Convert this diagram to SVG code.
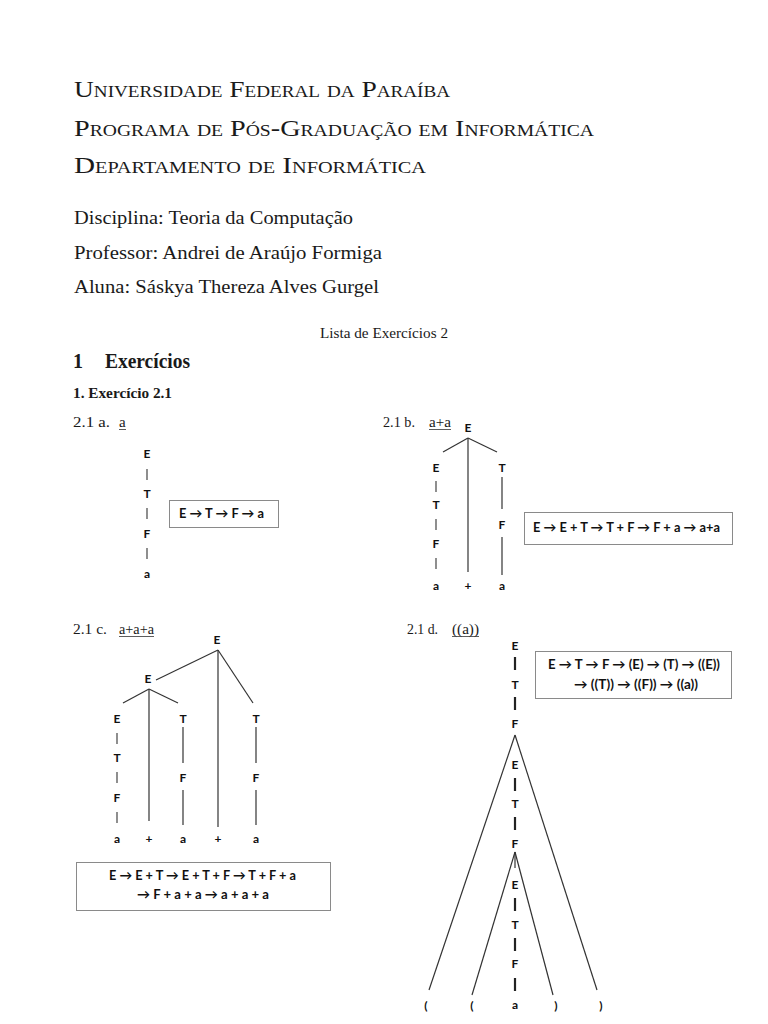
<svg xmlns="http://www.w3.org/2000/svg" width="768" height="1024" viewBox="0 0 768 1024">
<style>
.hd{font-family:"Liberation Serif",serif;font-variant:small-caps;font-size:23px;fill:#1a1a1a}
.sr{font-family:"Liberation Serif",serif;fill:#1a1a1a}
.t{font-family:Lato,"DejaVu Sans",sans-serif;font-weight:700;font-size:12px;fill:#111;text-anchor:middle;dominant-baseline:central}
.bx{fill:#fff;stroke:#8a8a8a;stroke-width:1}
.bt{font-family:Lato,"DejaVu Sans",sans-serif;font-weight:700;font-size:13px;fill:#111;text-anchor:middle}
.ln{stroke:#333;stroke-width:1.2;fill:none}
.br{stroke:#444;stroke-width:1.2}
.bb{stroke:#222;stroke-width:2.2}
.ul{stroke:#333;stroke-width:0.8}
</style>
<rect width="768" height="1024" fill="#fff"/>
<g id="header">
<text class="hd" x="74" y="97" textLength="376" lengthAdjust="spacingAndGlyphs">Universidade Federal da Paraíba</text>
<text class="hd" x="74" y="136" textLength="520" lengthAdjust="spacingAndGlyphs">Programa de Pós-Graduação em Informática</text>
<text class="hd" x="74" y="173" textLength="352" lengthAdjust="spacingAndGlyphs">Departamento de Informática</text>
<text class="sr" x="74" y="224" font-size="19" textLength="279" lengthAdjust="spacingAndGlyphs">Disciplina: Teoria da Computação</text>
<text class="sr" x="74" y="259" font-size="19" textLength="308" lengthAdjust="spacingAndGlyphs">Professor: Andrei de Araújo Formiga</text>
<text class="sr" x="74" y="293" font-size="19" textLength="305" lengthAdjust="spacingAndGlyphs">Aluna: Sáskya Thereza Alves Gurgel</text>
<text class="sr" x="320" y="338" font-size="14" textLength="128" lengthAdjust="spacingAndGlyphs">Lista de Exercícios 2</text>
<text class="sr" x="73" y="368" font-size="20" font-weight="700">1</text>
<text class="sr" x="105" y="368" font-size="20" font-weight="700" textLength="85" lengthAdjust="spacingAndGlyphs">Exercícios</text>
<text class="sr" x="73" y="398" font-size="15" font-weight="700" textLength="99" lengthAdjust="spacingAndGlyphs">1.  Exercício 2.1</text>
</g>
<g id="label-a">
<text class="sr" x="73" y="427" font-size="15" textLength="37" lengthAdjust="spacingAndGlyphs">2.1 a.</text>
<text class="sr" x="119" y="427" font-size="15">a</text>
<line class="ul" x1="119" y1="429.5" x2="126" y2="429.5"/>
</g>
<g id="label-b">
<text class="sr" x="383" y="427" font-size="15" textLength="32" lengthAdjust="spacingAndGlyphs">2.1 b.</text>
<text class="sr" x="429" y="427" font-size="15" textLength="22" lengthAdjust="spacingAndGlyphs">a+a</text>
<line class="ul" x1="429" y1="429.5" x2="451" y2="429.5"/>
</g>
<g id="label-c">
<text class="sr" x="73" y="634" font-size="15" textLength="34" lengthAdjust="spacingAndGlyphs">2.1 c.</text>
<text class="sr" x="119" y="634" font-size="15" textLength="35" lengthAdjust="spacingAndGlyphs">a+a+a</text>
<line class="ul" x1="119" y1="636.5" x2="154" y2="636.5"/>
</g>
<g id="label-d">
<text class="sr" x="407" y="634" font-size="15" textLength="31" lengthAdjust="spacingAndGlyphs">2.1 d.</text>
<text class="sr" x="452" y="634" font-size="15" textLength="27" lengthAdjust="spacingAndGlyphs">((a))</text>
<line class="ul" x1="452" y1="636.5" x2="479" y2="636.5"/>
</g>
<g id="connectors">
<!-- tree a bars -->
<line class="br" x1="147" y1="469" x2="147" y2="480"/>
<line class="br" x1="147" y1="508" x2="147" y2="519"/>
<line class="br" x1="147" y1="548" x2="147" y2="559"/>
<!-- tree b -->
<line class="ln" x1="468" y1="438" x2="443" y2="452"/>
<line class="ln" x1="468" y1="438" x2="497" y2="452"/>
<line class="ln" x1="468" y1="438" x2="468" y2="572"/>
<line class="ln" x1="502" y1="477" x2="502" y2="509"/>
<line class="ln" x1="502" y1="537" x2="502" y2="575"/>
<line class="br" x1="436" y1="481" x2="436" y2="492"/>
<line class="br" x1="436" y1="519" x2="436" y2="530"/>
<line class="br" x1="436" y1="558" x2="436" y2="569"/>
<!-- tree c -->
<line class="ln" x1="218" y1="650" x2="156" y2="680"/>
<line class="ln" x1="218" y1="650" x2="218" y2="827"/>
<line class="ln" x1="218" y1="650" x2="253" y2="703"/>
<line class="ln" x1="149" y1="689" x2="123" y2="703"/>
<line class="ln" x1="149" y1="689" x2="149" y2="821"/>
<line class="ln" x1="149" y1="689" x2="178" y2="703"/>
<line class="ln" x1="183" y1="727" x2="183" y2="763"/>
<line class="ln" x1="183" y1="790" x2="183" y2="825"/>
<line class="ln" x1="256" y1="727" x2="256" y2="763"/>
<line class="ln" x1="256" y1="790" x2="256" y2="825"/>
<line class="br" x1="117" y1="733" x2="117" y2="744"/>
<line class="br" x1="117" y1="772" x2="117" y2="783"/>
<line class="br" x1="117" y1="812" x2="117" y2="823"/>
<!-- tree d -->
<line class="ln" x1="515" y1="735" x2="429" y2="990"/>
<line class="ln" x1="515" y1="735" x2="597" y2="990"/>
<line class="ln" x1="515" y1="852" x2="472" y2="995"/>
<line class="ln" x1="515" y1="852" x2="553" y2="995"/>
<line class="ln" x1="515" y1="852" x2="515" y2="868"/>
<line class="bb" x1="515" y1="657" x2="515" y2="670"/>
<line class="bb" x1="515" y1="697" x2="515" y2="710"/>
<line class="bb" x1="515" y1="778" x2="515" y2="791"/>
<line class="bb" x1="515" y1="817" x2="515" y2="830"/>
<line class="bb" x1="515" y1="898" x2="515" y2="911"/>
<line class="bb" x1="515" y1="938" x2="515" y2="951"/>
<line class="bb" x1="515" y1="978" x2="515" y2="991"/>
</g>
<g id="tree-a">
<text class="t" x="147" y="453">E</text>
<text class="t" x="147" y="493">T</text>
<text class="t" x="147" y="533">F</text>
<text class="t" x="147" y="573">a</text>
</g>
<g id="box-a">
<rect class="bx" x="169.5" y="500.5" width="109" height="27"/>
<text class="bt" x="179" y="518" text-anchor="start" textLength="85" lengthAdjust="spacingAndGlyphs" style="text-anchor:start">E → T → F → a</text>
</g>
<g id="tree-b">
<text class="t" x="468" y="427">E</text>
<text class="t" x="436" y="467">E</text>
<text class="t" x="436" y="504">T</text>
<text class="t" x="436" y="543">F</text>
<text class="t" x="436" y="585">a</text>
<text class="t" x="468" y="585">+</text>
<text class="t" x="502" y="467">T</text>
<text class="t" x="502" y="524">F</text>
<text class="t" x="502" y="585">a</text>
</g>
<g id="box-b">
<rect class="bx" x="524.5" y="512.5" width="208" height="32"/>
<text class="bt" x="533" y="532" textLength="187" lengthAdjust="spacingAndGlyphs" style="text-anchor:start">E → E + T → T + F → F + a → a+a</text>
</g>
<g id="tree-c">
<text class="t" x="217" y="639">E</text>
<text class="t" x="148" y="678">E</text>
<text class="t" x="117" y="718">E</text>
<text class="t" x="117" y="757">T</text>
<text class="t" x="117" y="797">F</text>
<text class="t" x="117" y="838">a</text>
<text class="t" x="149" y="838">+</text>
<text class="t" x="183" y="718">T</text>
<text class="t" x="183" y="777">F</text>
<text class="t" x="183" y="838">a</text>
<text class="t" x="218" y="838">+</text>
<text class="t" x="256" y="718">T</text>
<text class="t" x="256" y="777">F</text>
<text class="t" x="256" y="838">a</text>
</g>
<g id="box-c">
<rect class="bx" x="76.5" y="862.5" width="254" height="48"/>
<text class="bt" x="109" y="880" textLength="187" lengthAdjust="spacingAndGlyphs" style="text-anchor:start">E → E + T → E + T + F → T + F + a</text>
<text class="bt" x="137" y="899" textLength="132" lengthAdjust="spacingAndGlyphs" style="text-anchor:start">→ F + a + a → a + a + a</text>
</g>
<g id="tree-d">
<text class="t" x="515" y="645">E</text>
<text class="t" x="515" y="684">T</text>
<text class="t" x="515" y="723">F</text>
<text class="t" x="515" y="764">E</text>
<text class="t" x="515" y="803">T</text>
<text class="t" x="515" y="843">F</text>
<text class="t" x="515" y="884">E</text>
<text class="t" x="515" y="924">T</text>
<text class="t" x="515" y="963">F</text>
<text class="t" x="515" y="1004">a</text>
<text class="t" x="426" y="1005">(</text>
<text class="t" x="472" y="1005">(</text>
<text class="t" x="556" y="1005">)</text>
<text class="t" x="601" y="1005">)</text>
</g>
<g id="box-d">
<rect class="bx" x="535.5" y="651.5" width="196" height="47"/>
<text class="bt" x="548" y="669" textLength="172" lengthAdjust="spacingAndGlyphs" style="text-anchor:start">E → T → F → (E) → (T) → ((E))</text>
<text class="bt" x="574" y="689" textLength="124" lengthAdjust="spacingAndGlyphs" style="text-anchor:start">→ ((T)) → ((F)) → ((a))</text>
</g>
</svg>
